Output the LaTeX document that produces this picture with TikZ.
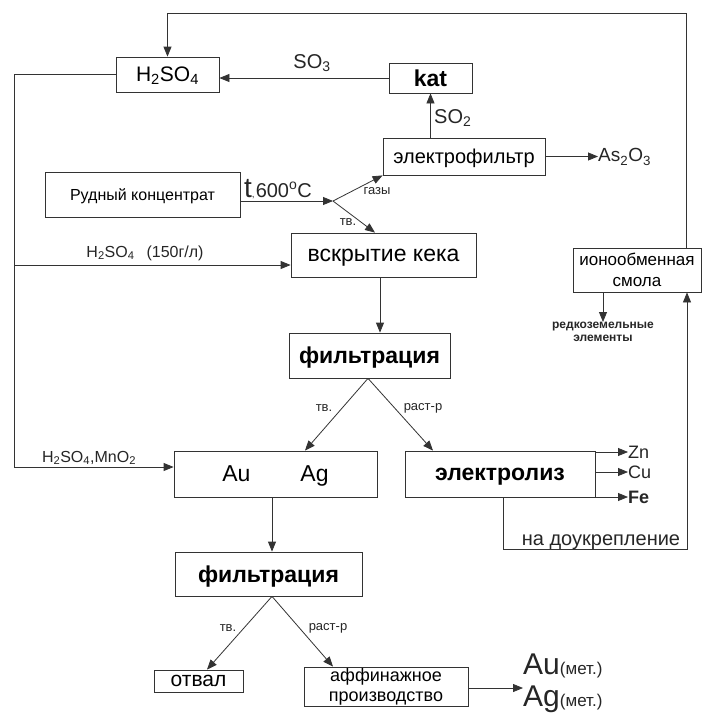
\documentclass[tikz,border=0pt]{standalone}
\usepackage{fontspec}
\setmainfont{Liberation Sans}
\usetikzlibrary{arrows.meta}
\newcommand\fsz[1]{\fontsize{#1}{#1}\selectfont}
\begin{document}
\begin{tikzpicture}[x=1pt,y=-1pt,
  box/.style={draw=black!80, line width=0.8pt, inner sep=0pt, align=center},
  sbox/.style={draw=black!80, line width=0.8pt, inner sep=0pt, text depth=0pt},
  arr/.style={draw=black!80, line width=0.8pt, -{Triangle[length=10pt,width=8pt]}},
  ln/.style={draw=black!80, line width=0.8pt},
  lbl/.style={inner sep=0pt, text=black!85}]
\useasboundingbox[fill=white] (0,0) rectangle (708,718);

% boxes
\node[sbox, minimum width=103, minimum height=35, font=\fsz{21}] (acid) at (167.5,74.5) {H\textsubscript{2}SO\textsubscript{4}};
\node[sbox, minimum width=83, minimum height=30, font=\fsz{23}\bfseries] (kat) at (430.5,78) {kat};
\node[sbox, minimum width=162, minimum height=37, font=\fsz{20}] (ef) at (464,156.5) {электрофильтр};
\node[sbox, minimum width=195, minimum height=45, font=\fsz{16}] (ore) at (142.5,195) {Рудный концентрат};
\node[sbox, minimum width=185, minimum height=44, font=\fsz{23}] (vsk) at (383.5,255) {вскрытие кека};
\node[sbox, minimum width=161, minimum height=45, font=\fsz{23}\bfseries] (f1) at (369.5,355.5) {фильтрация};
\node[sbox, minimum width=203, minimum height=46, font=\fsz{23}] (au) at (275.5,474) {Au\hspace{50pt}Ag};
\node[sbox, minimum width=190, minimum height=46, font=\fsz{23}\bfseries] (el) at (500,474) {электролиз};
\node[sbox, minimum width=187, minimum height=44, font=\fsz{23}\bfseries] (f2) at (268.5,574) {фильтрация};
\node[sbox, minimum width=89, minimum height=22, font=\fsz{21}] (otv) at (198.5,681) {отвал};
\node[box, minimum width=164, minimum height=39, font=\fontsize{18}{20}\selectfont] (aff) at (386,686.5) {аффинажное\\производство};
\node[box, minimum width=128, minimum height=44, font=\fontsize{17}{21}\selectfont] (ion) at (637,270) {ионообменная\\смола};

% free labels / products
\node[lbl, anchor=west, font=\fsz{19}] (as) at (598,157) {As\textsubscript{2}O\textsubscript{3}};
\node[lbl, anchor=west, font=\fsz{18}] (zn) at (628,452) {Zn};
\node[lbl, anchor=west, font=\fsz{18}] (cu) at (628,472) {Cu};
\node[lbl, anchor=west, font=\fsz{18}\bfseries] (fe) at (628,497) {Fe};
\node[lbl, anchor=base west, font=\fsz{30}] (aum) at (523,674) {Au{\fsz{17}(мет.)}};
\node[lbl, anchor=base west, font=\fsz{30}] (agm) at (523,706) {Ag{\fsz{17}(мет.)}};
\node[lbl, align=center, font=\fontsize{12}{13}\selectfont\bfseries] (ree) at (603,332) {редкоземельные\\элементы};
\coordinate (met) at (523,688);

% top loop
\coordinate (tr) at (686,13);
\draw[arr] (ion.north -| tr) -- (tr) -- (tr -| acid) -- (acid.north);
\draw[arr] (kat.west) -- (kat.west -| acid.east);
\node[lbl, anchor=base, font=\fsz{20}] at (312,68) {SO\textsubscript{3}};
\draw[arr] (ef.north -| kat) -- (kat.south);
\node[lbl, anchor=base west, font=\fsz{20}] at (434,123) {SO\textsubscript{2}};
\draw[arr] (ef.east) -- (as.west |- ef.east);

% ore
\coordinate (sp) at (333,201);
\draw[arr] (ore.east |- sp) -- (sp);
\node[lbl, anchor=base west] at (244,197) {{\fsz{28}t},\hspace{1pt}{\fsz{20}600\textsuperscript{o}C}};
\draw[arr] (sp) -- (ef.south west);
\draw[arr] (sp) -- ([xshift=-8.5]vsk.north);
\node[lbl, font=\fsz{13}] at (377,191) {газы};
\node[lbl, font=\fsz{13}] at (348,222) {тв.};

% left loop
\coordinate (l2) at (14,265);
\coordinate (l3) at (14,467);
\draw[ln] (acid.west) -- (acid.west -| l3) -- (l3);
\draw[arr] (l2) -- (l2 -| vsk.west);
\draw[arr] (l3) -- (l3 -| au.west);
\node[lbl, anchor=base, font=\fsz{16}] at (145,257) {H\textsubscript{2}SO\textsubscript{4}\hspace{12pt}(150г/л)};
\node[lbl, anchor=base, font=\fsz{16}] at (89,462) {H\textsubscript{2}SO\textsubscript{4},MnO\textsubscript{2}};

% main chain
\draw[arr] ([xshift=-3.5]vsk.south) -- ([xshift=-3.5]vsk.south |- f1.north);
\draw[arr] ([xshift=-1.5]f1.south) -- ([xshift=29.5]au.north);
\draw[arr] ([xshift=-1.5]f1.south) -- ([xshift=-67]el.north);
\node[lbl, font=\fsz{13}] at (324,408) {тв.};
\node[lbl, font=\fsz{13}] at (423,408) {раст-р};
\draw[arr] ([xshift=-3.5]au.south) -- ([xshift=-3.5]au.south |- f2.north);
\draw[arr] ([xshift=3.5]f2.south) -- ([xshift=8.5]otv.north);
\draw[arr] ([xshift=3.5]f2.south) -- ([xshift=-53]aff.north);
\node[lbl, font=\fsz{13}] at (228,628) {тв.};
\node[lbl, font=\fsz{13}] at (328,628) {раст-р};
\draw[arr] (aff.east |- met) -- (met);

% electrolysis outputs
\draw[arr] (el.east |- zn) -- (zn.west);
\draw[arr] (el.east |- cu) -- (cu.west);
\draw[arr] (el.east |- fe) -- (fe.west);
\coordinate (b1) at (503,549);
\coordinate (b2) at (687,549);
\draw[arr] (el.south -| b1) -- (b1) -- (b2) -- (b2 |- ion.south);
\node[lbl, anchor=base, font=\fsz{20}] at (601,545) {на доукрепление};

% ion exchange outputs
\draw[arr] (ree.north |- ion.south) -- (ree.north);
\end{tikzpicture}
\end{document}
